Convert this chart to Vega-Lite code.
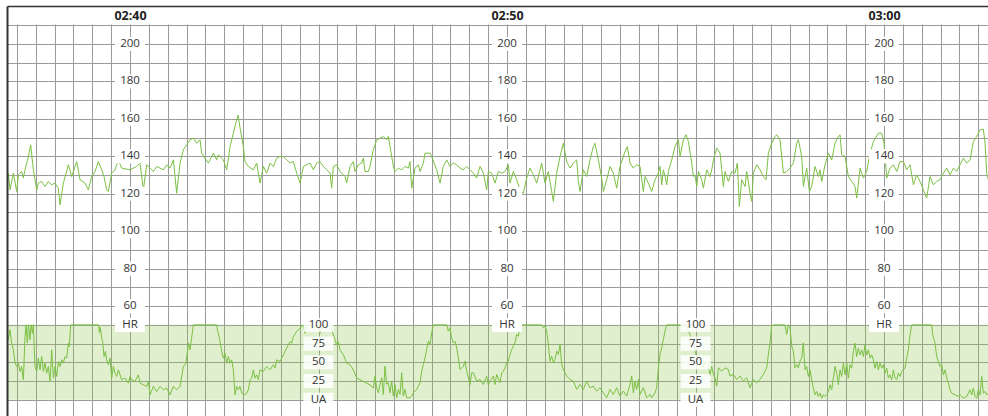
{
"$schema":"https://vega.github.io/schema/vega-lite/v6.json",
"width":981,"height":410,"autosize":"none",
"padding":{"left":7,"top":6,"right":0,"bottom":0},
"background":"white",
"config":{"view":{"stroke":null}},
"datasets":{
"hr":[
{"t":36.72,"v":129.2},{"t":36.773,"v":131.0},{"t":36.817,"v":122.1},{"t":36.906,"v":131.0},{"t":36.994,"v":121.2},{"t":37.038,"v":130.1},{"t":37.127,"v":131.9},{"t":37.171,"v":128.4},{"t":37.215,"v":132.8},{"t":37.304,"v":139.9},{"t":37.365,"v":146.1},{"t":37.436,"v":132.8},{"t":37.525,"v":122.1},{"t":37.569,"v":125.7},{"t":37.657,"v":126.6},{"t":37.746,"v":123.9},{"t":37.834,"v":126.6},{"t":37.922,"v":124.8},{"t":38.011,"v":125.7},{"t":38.099,"v":123.0},{"t":38.144,"v":114.1},{"t":38.232,"v":125.7},{"t":38.365,"v":135.5},{"t":38.453,"v":129.2},{"t":38.586,"v":137.2},{"t":38.674,"v":127.5},{"t":38.807,"v":125.7},{"t":38.895,"v":122.1},{"t":38.983,"v":129.2},{"t":39.072,"v":131.9},{"t":39.16,"v":137.2},{"t":39.249,"v":132.8},{"t":39.311,"v":129.2},{"t":39.381,"v":122.1},{"t":39.426,"v":121.2},{"t":39.514,"v":131.0},{"t":39.602,"v":132.8},{"t":39.691,"v":138.1},{"t":39.779,"v":133.7},{"t":40.0,"v":132.8},{"t":40.177,"v":134.6},{"t":40.266,"v":136.4},{"t":40.354,"v":122.1},{"t":40.442,"v":135.5},{"t":40.531,"v":133.7},{"t":40.619,"v":131.9},{"t":40.708,"v":134.6},{"t":40.796,"v":133.7},{"t":40.884,"v":132.8},{"t":40.973,"v":135.5},{"t":41.061,"v":133.7},{"t":41.15,"v":138.1},{"t":41.238,"v":120.3},{"t":41.327,"v":136.4},{"t":41.415,"v":143.5},{"t":41.503,"v":146.1},{"t":41.592,"v":148.8},{"t":41.68,"v":149.7},{"t":41.769,"v":147.0},{"t":41.857,"v":148.8},{"t":41.901,"v":141.7},{"t":41.99,"v":139.0},{"t":42.078,"v":136.4},{"t":42.122,"v":138.1},{"t":42.211,"v":141.7},{"t":42.299,"v":138.1},{"t":42.343,"v":140.8},{"t":42.432,"v":139.0},{"t":42.476,"v":138.1},{"t":42.564,"v":132.8},{"t":42.653,"v":145.2},{"t":42.741,"v":152.4},{"t":42.81,"v":158.0},{"t":42.865,"v":162.0},{"t":42.92,"v":155.0},{"t":43.007,"v":145.2},{"t":43.051,"v":137.2},{"t":43.139,"v":134.6},{"t":43.272,"v":132.8},{"t":43.36,"v":136.4},{"t":43.449,"v":125.7},{"t":43.537,"v":134.6},{"t":43.625,"v":131.0},{"t":43.714,"v":136.4},{"t":43.802,"v":134.6},{"t":43.891,"v":139.0},{"t":43.979,"v":139.9},{"t":44.067,"v":139.9},{"t":44.156,"v":138.1},{"t":44.244,"v":136.4},{"t":44.333,"v":137.2},{"t":44.421,"v":131.0},{"t":44.51,"v":125.7},{"t":44.598,"v":134.6},{"t":44.686,"v":135.5},{"t":44.775,"v":136.4},{"t":44.863,"v":132.8},{"t":44.951,"v":136.4},{"t":45.04,"v":137.2},{"t":45.128,"v":134.6},{"t":45.217,"v":132.8},
{"t":45.305,"v":131.0},{"t":45.349,"v":123.0},{"t":45.393,"v":134.6},{"t":45.482,"v":135.5},{"t":45.57,"v":131.9},{"t":45.703,"v":129.2},{"t":45.747,"v":125.7},{"t":45.836,"v":134.6},{"t":45.924,"v":137.2},{"t":45.968,"v":131.9},{"t":46.057,"v":135.5},{"t":46.145,"v":136.4},{"t":46.189,"v":139.0},{"t":46.233,"v":131.9},{"t":46.322,"v":131.9},{"t":46.366,"v":134.6},{"t":46.454,"v":143.5},{"t":46.543,"v":148.8},{"t":46.631,"v":149.7},{"t":46.72,"v":150.6},{"t":46.808,"v":148.8},{"t":46.852,"v":150.6},{"t":46.897,"v":145.2},{"t":46.985,"v":134.6},{"t":47.029,"v":131.9},{"t":47.118,"v":133.7},{"t":47.206,"v":132.8},{"t":47.294,"v":134.6},{"t":47.383,"v":133.7},{"t":47.427,"v":137.2},{"t":47.471,"v":123.0},{"t":47.56,"v":133.7},{"t":47.648,"v":135.5},{"t":47.692,"v":131.9},{"t":47.781,"v":136.4},{"t":47.825,"v":141.7},{"t":47.958,"v":141.7},{"t":48.002,"v":139.9},{"t":48.134,"v":132.8},{"t":48.223,"v":125.7},{"t":48.311,"v":134.6},{"t":48.4,"v":138.1},{"t":48.488,"v":134.6},{"t":48.576,"v":136.4},{"t":48.665,"v":135.5},{"t":48.753,"v":133.7},{"t":48.842,"v":132.8},{"t":48.93,"v":134.6},{"t":49.019,"v":132.8},{"t":49.107,"v":131.0},{"t":49.195,"v":128.4},{"t":49.284,"v":134.6},{"t":49.372,"v":131.0},{"t":49.461,"v":122.1},{"t":49.505,"v":131.9},{"t":49.593,"v":131.0},{"t":49.682,"v":125.7},{"t":49.77,"v":131.9},{"t":49.858,"v":131.0},{"t":49.947,"v":131.9},{"t":50.035,"v":135.5},{"t":50.08,"v":125.7},{"t":50.168,"v":131.9},{"t":50.256,"v":127.5},{"t":50.345,"v":122.1},{"t":50.433,"v":120.3},{"t":50.522,"v":128.4},{"t":50.61,"v":133.7},{"t":50.698,"v":130.1},{"t":50.787,"v":125.7},{"t":50.92,"v":136.4},{"t":51.008,"v":125.7},{"t":51.096,"v":131.9},{"t":51.185,"v":121.2},{"t":51.229,"v":115.9},{"t":51.317,"v":131.0},{"t":51.406,"v":139.9},{"t":51.494,"v":147.0},{"t":51.583,"v":137.2},{"t":51.671,"v":133.7},{"t":51.759,"v":136.4},{"t":51.848,"v":138.1},{"t":51.892,"v":126.6},{"t":51.936,"v":121.2},{"t":52.025,"v":132.8},{"t":52.113,"v":129.2},{"t":52.201,"v":138.1},{"t":52.29,"v":145.2},{"t":52.334,"v":147.0},{"t":52.423,"v":138.1},{"t":52.511,"v":128.4},{"t":52.555,"v":121.2},{"t":52.644,"v":127.5},{"t":52.732,"v":134.6},{"t":52.82,"v":131.0},{"t":52.909,"v":123.0},{"t":52.997,"v":134.6},{"t":53.13,"v":142.6},{"t":53.192,"v":145.2},{"t":53.263,"v":136.4},{"t":53.351,"v":133.7},{"t":53.439,"v":135.5},{"t":53.528,"v":134.6},{"t":53.616,"v":121.2},{"t":53.661,"v":129.2},{"t":53.749,"v":125.7},{"t":53.837,"v":121.2},{"t":53.926,"v":127.5},{"t":54.014,"v":131.0},
{"t":54.059,"v":134.6},{"t":54.103,"v":124.8},{"t":54.147,"v":132.8},{"t":54.192,"v":129.2},{"t":54.236,"v":124.8},{"t":54.28,"v":131.9},{"t":54.368,"v":138.1},{"t":54.457,"v":145.2},{"t":54.545,"v":148.8},{"t":54.59,"v":139.9},{"t":54.678,"v":148.8},{"t":54.749,"v":151.5},{"t":54.811,"v":147.9},{"t":54.899,"v":136.4},{"t":54.943,"v":129.2},{"t":54.987,"v":130.1},{"t":55.032,"v":123.9},{"t":55.076,"v":131.9},{"t":55.164,"v":127.5},{"t":55.208,"v":123.0},{"t":55.297,"v":132.8},{"t":55.385,"v":129.2},{"t":55.43,"v":132.8},{"t":55.474,"v":138.1},{"t":55.562,"v":144.4},{"t":55.651,"v":141.7},{"t":55.695,"v":132.8},{"t":55.739,"v":123.9},{"t":55.783,"v":131.9},{"t":55.872,"v":126.6},{"t":55.96,"v":131.9},{"t":56.048,"v":131.0},{"t":56.11,"v":136.4},{"t":56.163,"v":113.2},{"t":56.225,"v":127.5},{"t":56.314,"v":123.9},{"t":56.358,"v":131.9},{"t":56.446,"v":120.4},{"t":56.491,"v":115.9},{"t":56.535,"v":131.0},{"t":56.623,"v":135.5},{"t":56.712,"v":132.8},{"t":56.8,"v":129.2},{"t":56.871,"v":127.5},{"t":56.933,"v":141.7},{"t":57.021,"v":147.0},{"t":57.109,"v":150.6},{"t":57.154,"v":151.5},{"t":57.242,"v":148.8},{"t":57.33,"v":131.0},{"t":57.419,"v":131.9},{"t":57.507,"v":133.7},{"t":57.596,"v":136.4},{"t":57.684,"v":147.0},{"t":57.728,"v":148.8},{"t":57.817,"v":139.9},{"t":57.861,"v":123.9},{"t":57.949,"v":133.7},{"t":58.02,"v":121.2},{"t":58.082,"v":123.9},{"t":58.17,"v":134.6},{"t":58.259,"v":129.2},{"t":58.303,"v":132.8},{"t":58.347,"v":126.6},{"t":58.436,"v":135.5},{"t":58.524,"v":141.7},{"t":58.612,"v":138.1},{"t":58.701,"v":147.0},{"t":58.789,"v":150.6},{"t":58.833,"v":151.5},{"t":58.878,"v":140.8},{"t":58.966,"v":139.9},{"t":59.055,"v":129.2},{"t":59.143,"v":126.6},{"t":59.231,"v":123.9},{"t":59.276,"v":117.7},{"t":59.364,"v":133.7},{"t":59.452,"v":128.4},{"t":59.541,"v":131.9},{"t":59.629,"v":141.7},{"t":59.718,"v":147.9},{"t":59.85,"v":152.4},{"t":59.939,"v":152.4},{"t":60.001,"v":147.0},{"t":60.071,"v":128.4},{"t":60.16,"v":133.7},{"t":60.248,"v":135.5},{"t":60.337,"v":131.9},{"t":60.425,"v":137.2},{"t":60.513,"v":137.2},{"t":60.602,"v":132.8},{"t":60.69,"v":135.5},{"t":60.779,"v":124.8},{"t":60.867,"v":130.1},{"t":60.955,"v":126.6},{"t":61.044,"v":122.1},{"t":61.132,"v":117.7},{"t":61.221,"v":129.2},{"t":61.309,"v":124.8},{"t":61.398,"v":126.6},{"t":61.486,"v":127.5},{"t":61.574,"v":131.0},{"t":61.663,"v":133.7},{"t":61.751,"v":130.1},{"t":61.84,"v":133.7},{"t":61.928,"v":131.9},{"t":62.016,"v":135.5},{"t":62.105,"v":139.0},{"t":62.193,"v":136.4},{"t":62.282,"v":138.1},{"t":62.37,"v":147.9},{"t":62.459,"v":150.6},{"t":62.547,"v":154.1},{"t":62.635,"v":154.5},{"t":62.68,"v":147.0},{"t":62.724,"v":131.0},{"t":62.768,"v":127.5}
],
"ua":[
{"t":36.711,"v":93.3},{"t":36.773,"v":80.0},{"t":36.817,"v":93.3},{"t":36.861,"v":75.6},{"t":36.906,"v":66.7},{"t":36.95,"v":48.9},{"t":36.994,"v":44.4},{"t":37.038,"v":48.9},{"t":37.083,"v":37.8},{"t":37.127,"v":44.4},{"t":37.171,"v":26.7},{"t":37.215,"v":84.4},{"t":37.242,"v":100},{"t":37.277,"v":75.6},{"t":37.304,"v":100},{"t":37.348,"v":80.0},{"t":37.374,"v":100},{"t":37.41,"v":88.9},{"t":37.436,"v":100},{"t":37.48,"v":44.4},{"t":37.525,"v":37.8},{"t":37.569,"v":55.6},{"t":37.613,"v":40.0},{"t":37.657,"v":57.8},{"t":37.701,"v":37.8},{"t":37.746,"v":48.9},{"t":37.79,"v":35.6},{"t":37.834,"v":44.4},{"t":37.878,"v":24.4},{"t":37.922,"v":66.7},{"t":37.967,"v":28.9},{"t":38.011,"v":44.4},{"t":38.055,"v":31.1},{"t":38.099,"v":51.1},{"t":38.144,"v":44.4},{"t":38.188,"v":53.3},{"t":38.232,"v":48.9},{"t":38.276,"v":57.8},{"t":38.32,"v":55.6},{"t":38.365,"v":75.6},{"t":38.391,"v":71.1},{"t":38.426,"v":100},{"t":39.169,"v":100},{"t":39.187,"v":89.8},{"t":39.205,"v":97},
{"t":39.222,"v":93.3},{"t":39.249,"v":82.2},{"t":39.275,"v":77.8},{"t":39.311,"v":57.8},{"t":39.346,"v":64.4},{"t":39.381,"v":53.3},{"t":39.426,"v":46.7},{"t":39.47,"v":55.6},{"t":39.514,"v":28.9},{"t":39.558,"v":44.4},{"t":39.602,"v":35.6},{"t":39.647,"v":31.1},{"t":39.691,"v":40.0},{"t":39.779,"v":26.7},{"t":39.868,"v":28.9},{"t":39.956,"v":22.2},{"t":40.0,"v":31.1},{"t":40.045,"v":26.7},{"t":40.133,"v":24.4},{"t":40.221,"v":33.3},{"t":40.266,"v":22.2},{"t":40.354,"v":20.0},{"t":40.442,"v":17.8},{"t":40.487,"v":24.4},{"t":40.531,"v":6.7},{"t":40.619,"v":17.8},{"t":40.708,"v":11.1},{"t":40.796,"v":17.8},{"t":40.884,"v":13.3},{"t":40.973,"v":15.6},{"t":41.061,"v":6.7},{"t":41.15,"v":17.8},{"t":41.238,"v":13.3},{"t":41.327,"v":17.8},{"t":41.371,"v":31.1},{"t":41.415,"v":44.4},{"t":41.486,"v":48.9},{"t":41.548,"v":75.6},{"t":41.592,"v":66.7},{"t":41.68,"v":100},{"t":42.299,"v":100},{"t":42.317,"v":93.3},{"t":42.37,"v":82.2},{"t":42.432,"v":64.4},{"t":42.476,"v":55.6},{"t":42.52,"v":62.2},{"t":42.564,"v":48.9},{"t":42.609,"v":57.8},{"t":42.653,"v":48.9},{"t":42.697,"v":53.3},{"t":42.741,"v":40.0},{"t":42.785,"v":6.7},{"t":42.83,"v":17.8},{"t":42.874,"v":13.3},{"t":42.918,"v":17.8},{"t":42.962,"v":8.9},{"t":43.051,"v":6.7},{"t":43.095,"v":8.9},{"t":43.139,"v":13.3},{"t":43.183,"v":26.7},{"t":43.227,"v":28.9},{"t":43.272,"v":40.0},{"t":43.316,"v":28.9},{"t":43.36,"v":33.3},{"t":43.404,"v":26.7},{"t":43.449,"v":40.0},{"t":43.537,"v":37.8},{"t":43.625,"v":44.4},{"t":43.714,"v":40.0},{"t":43.802,"v":46.7},{"t":43.846,"v":42.2},{"t":43.891,"v":53.3},{"t":43.979,"v":51.1},{"t":44.067,"v":60.0},{"t":44.156,"v":68.9},{"t":44.244,"v":77.8},{"t":44.289,"v":75.6},{"t":44.333,"v":84.4},{"t":44.421,"v":91.1},{"t":44.51,"v":95.6},{"t":44.598,"v":100},{"t":44.642,"v":88.9},{"t":44.686,"v":97.8},{"t":44.775,"v":100},{"t":44.863,"v":93.3},{"t":44.951,"v":100},{"t":45.04,"v":88.9},{"t":45.128,"v":100},{"t":45.217,"v":95.6},{"t":45.305,"v":100},{"t":45.349,"v":93.3},{"t":45.438,"v":80.0},{"t":45.482,"v":73.3},{"t":45.526,"v":77.8},{"t":45.57,"v":66.7},{"t":45.659,"v":60.0},{"t":45.747,"v":48.9},{"t":45.836,"v":46.7},{"t":45.924,"v":40.0},{"t":46.013,"v":28.9},{"t":46.101,"v":26.7},{"t":46.189,"v":24.4},{"t":46.278,"v":22.2},{"t":46.366,"v":20.0},{"t":46.455,"v":15.6},
{"t":46.499,"v":31.6},{"t":46.543,"v":16.0},{"t":46.587,"v":9.3},{"t":46.631,"v":20.4},{"t":46.675,"v":29.3},{"t":46.72,"v":7.1},{"t":46.764,"v":44.9},{"t":46.808,"v":20.4},{"t":46.852,"v":22.7},{"t":46.897,"v":9.3},{"t":46.941,"v":24.9},{"t":46.985,"v":4.9},{"t":47.029,"v":20.4},{"t":47.073,"v":2.7},{"t":47.118,"v":13.8},{"t":47.162,"v":7.1},{"t":47.206,"v":36.0},{"t":47.25,"v":4.9},{"t":47.294,"v":13.8},{"t":47.339,"v":2.7},{"t":47.427,"v":2.7},{"t":47.471,"v":4.9},{"t":47.515,"v":9.3},{"t":47.604,"v":13.8},{"t":47.692,"v":22.7},{"t":47.737,"v":38.2},{"t":47.781,"v":47.1},{"t":47.825,"v":56.0},{"t":47.869,"v":67.1},{"t":47.913,"v":78.2},{"t":47.958,"v":73.8},{"t":48.002,"v":89.3},{"t":48.046,"v":100},{"t":48.4,"v":100},{"t":48.444,"v":91.6},{"t":48.488,"v":96.0},{"t":48.532,"v":82.7},{"t":48.576,"v":76.0},{"t":48.621,"v":78.2},{"t":48.665,"v":69.3},{"t":48.709,"v":56.0},{"t":48.753,"v":40.4},{"t":48.842,"v":44.9},{"t":48.886,"v":51.6},{"t":48.93,"v":38.2},{"t":49.019,"v":20.4},{"t":49.063,"v":36.0},{"t":49.107,"v":36.0},{"t":49.195,"v":24.9},{"t":49.284,"v":27.1},{"t":49.372,"v":20.4},{"t":49.461,"v":31.6},{"t":49.505,"v":20.4},{"t":49.549,"v":24.9},{"t":49.638,"v":31.6},{"t":49.682,"v":20.4},{"t":49.726,"v":33.8},{"t":49.814,"v":22.7},{"t":49.859,"v":36.0},{"t":49.903,"v":38.2},{"t":49.947,"v":42.7},{"t":49.991,"v":49.3},{"t":50.035,"v":51.6},{"t":50.08,"v":60.4},{"t":50.124,"v":67.1},{"t":50.168,"v":71.6},{"t":50.212,"v":76.0},{"t":50.256,"v":87.1},{"t":50.301,"v":84.9},{"t":50.345,"v":98.2},{"t":50.389,"v":100},{"t":50.919,"v":100},{"t":50.964,"v":96.0},{"t":51.008,"v":98.2},{"t":51.052,"v":91.6},{"t":51.096,"v":73.8},{"t":51.141,"v":51.6},{"t":51.185,"v":58.2},{"t":51.229,"v":49.3},{"t":51.273,"v":53.8},{"t":51.317,"v":64.9},{"t":51.362,"v":60.4},{"t":51.406,"v":73.8},{"t":51.45,"v":47.1},{"t":51.494,"v":40.4},{"t":51.539,"v":36.0},{"t":51.583,"v":31.6},{"t":51.671,"v":27.1},{"t":51.759,"v":24.9},{"t":51.848,"v":13.8},{"t":51.936,"v":20.4},{"t":52.025,"v":13.8},{"t":52.113,"v":24.9},{"t":52.201,"v":16.0},{"t":52.29,"v":18.2},{"t":52.378,"v":11.6},{"t":52.467,"v":16.0},{"t":52.555,"v":9.3},{"t":52.644,"v":2.7},{"t":52.732,"v":13.8},{"t":52.82,"v":7.1},{"t":52.909,"v":16.0},{"t":52.997,"v":4.9},{"t":53.086,"v":11.6},{"t":53.174,"v":4.9},{"t":53.263,"v":20.4},{"t":53.307,"v":31.6},{"t":53.351,"v":9.3},{"t":53.395,"v":24.9},{"t":53.439,"v":13.8},{"t":53.484,"v":27.1},{"t":53.528,"v":7.1},{"t":53.616,"v":16.0},{"t":53.705,"v":2.7},{"t":53.793,"v":7.1},{"t":53.837,"v":2.7},{"t":53.926,"v":9.3},{"t":53.97,"v":16.0},{"t":54.014,"v":42.7},{"t":54.059,"v":60.4},{"t":54.103,"v":69.3},{"t":54.147,"v":80.4},{"t":54.191,"v":91.6},{"t":54.235,"v":100},{"t":54.766,"v":100},{"t":54.81,"v":91.6},{"t":54.854,"v":87.1},{"t":54.898,"v":69.3},{"t":54.943,"v":78.2},{"t":54.987,"v":64.9},{"t":55.031,"v":58.2},{"t":55.075,"v":53.8},{"t":55.119,"v":47.1},{"t":55.164,"v":51.6},{"t":55.208,"v":42.7},{"t":55.252,"v":51.6},{"t":55.34,"v":47.1},{"t":55.385,"v":31.6},{"t":55.429,"v":44.9},{"t":55.473,"v":33.8},{"t":55.517,"v":29.3},{"t":55.562,"v":18.2},{"t":55.606,"v":42.7},{"t":55.694,"v":38.2},{"t":55.783,"v":42.7},{"t":55.871,"v":40.4},{"t":55.915,"v":31.6},{"t":56.004,"v":33.8},{"t":56.092,"v":27.1},{"t":56.181,"v":31.6},{"t":56.269,"v":24.9},{"t":56.357,"v":29.3},{"t":56.446,"v":16.0},{"t":56.534,"v":27.1},{"t":56.622,"v":22.7},{"t":56.711,"v":27.1},{"t":56.799,"v":33.8},{"t":56.888,"v":42.7},{"t":56.932,"v":60.4},{"t":56.976,"v":76.0},{"t":57.02,"v":98.2},{"t":57.065,"v":100},{"t":57.374,"v":100},{"t":57.418,"v":87.1},{"t":57.462,"v":100},{"t":57.507,"v":96.0},{"t":57.551,"v":71.6},{"t":57.595,"v":64.9},{"t":57.639,"v":42.7},{"t":57.684,"v":47.1},{"t":57.728,"v":42.7},{"t":57.772,"v":51.6},{"t":57.816,"v":56.0},{"t":57.86,"v":76.0},
{"t":57.905,"v":40.0},{"t":57.949,"v":44.4},{"t":57.993,"v":31.1},{"t":58.037,"v":40.0},{"t":58.081,"v":26.7},{"t":58.126,"v":15.6},{"t":58.17,"v":6.7},{"t":58.214,"v":11.1},{"t":58.258,"v":4.4},{"t":58.303,"v":8.9},{"t":58.347,"v":2.2},{"t":58.391,"v":6.7},{"t":58.435,"v":4.4},{"t":58.479,"v":6.7},{"t":58.524,"v":11.1},{"t":58.568,"v":20.0},{"t":58.612,"v":13.3},{"t":58.656,"v":28.9},{"t":58.7,"v":44.4},{"t":58.745,"v":35.6},{"t":58.789,"v":20.0},{"t":58.833,"v":40.0},{"t":58.877,"v":31.1},{"t":58.921,"v":48.9},{"t":58.966,"v":33.3},{"t":59.01,"v":48.9},{"t":59.054,"v":28.9},{"t":59.098,"v":46.7},{"t":59.142,"v":42.2},{"t":59.187,"v":64.4},{"t":59.231,"v":75.6},{"t":59.275,"v":57.8},{"t":59.319,"v":68.9},{"t":59.364,"v":60.0},{"t":59.408,"v":66.7},{"t":59.452,"v":57.8},{"t":59.496,"v":73.3},{"t":59.54,"v":60.0},{"t":59.585,"v":66.7},{"t":59.629,"v":55.6},{"t":59.673,"v":60.0},{"t":59.717,"v":53.3},{"t":59.761,"v":42.2},{"t":59.806,"v":51.1},{"t":59.85,"v":40.0},{"t":59.894,"v":48.9},{"t":59.938,"v":42.2},{"t":59.983,"v":46.7},{"t":60.027,"v":35.6},{"t":60.071,"v":42.2},{"t":60.115,"v":28.9},{"t":60.159,"v":33.3},{"t":60.204,"v":26.7},{"t":60.248,"v":40.0},{"t":60.292,"v":28.9},{"t":60.336,"v":26.7},{"t":60.38,"v":35.6},{"t":60.425,"v":31.1},{"t":60.469,"v":37.8},{"t":60.513,"v":40.0},{"t":60.557,"v":42.2},{"t":60.601,"v":55.6},{"t":60.646,"v":66.7},{"t":60.69,"v":86.7},{"t":60.734,"v":100},{"t":61.264,"v":100},{"t":61.291,"v":86.7},{"t":61.353,"v":75.6},{"t":61.397,"v":57.8},{"t":61.441,"v":51.1},{"t":61.486,"v":44.4},{"t":61.53,"v":46.7},{"t":61.574,"v":33.3},{"t":61.618,"v":40.0},{"t":61.663,"v":28.9},{"t":61.707,"v":22.2},{"t":61.751,"v":13.3},{"t":61.795,"v":8.9},{"t":61.884,"v":6.7},{"t":61.972,"v":4.4},{"t":62.016,"v":6.7},{"t":62.105,"v":2.2},{"t":62.193,"v":4.4},{"t":62.281,"v":13.3},{"t":62.326,"v":6.7},{"t":62.37,"v":15.6},{"t":62.414,"v":4.4},{"t":62.458,"v":2.2},{"t":62.503,"v":13.3},{"t":62.547,"v":6.7},{"t":62.591,"v":31.1},{"t":62.635,"v":8.9},{"t":62.68,"v":11.1},{"t":62.724,"v":6.7},{"t":62.768,"v":8.9}
],
"hrLabels":[
{"t":40,"v":200,"label":"200"},{"t":40,"v":180,"label":"180"},{"t":40,"v":160,"label":"160"},{"t":40,"v":140,"label":"140"},{"t":40,"v":120,"label":"120"},{"t":40,"v":100,"label":"100"},{"t":40,"v":80,"label":"80"},{"t":40,"v":60,"label":"60"},{"t":40,"v":50,"label":"HR"},
{"t":50,"v":200,"label":"200"},{"t":50,"v":180,"label":"180"},{"t":50,"v":160,"label":"160"},{"t":50,"v":140,"label":"140"},{"t":50,"v":120,"label":"120"},{"t":50,"v":100,"label":"100"},{"t":50,"v":80,"label":"80"},{"t":50,"v":60,"label":"60"},{"t":50,"v":50,"label":"HR"},
{"t":60,"v":200,"label":"200"},{"t":60,"v":180,"label":"180"},{"t":60,"v":160,"label":"160"},{"t":60,"v":140,"label":"140"},{"t":60,"v":120,"label":"120"},{"t":60,"v":100,"label":"100"},{"t":60,"v":80,"label":"80"},{"t":60,"v":60,"label":"60"},{"t":60,"v":50,"label":"HR"}
],
"uaLabels":[
{"t":45,"v":100,"label":"100"},{"t":45,"v":75,"label":"75"},{"t":45,"v":50,"label":"50"},{"t":45,"v":25,"label":"25"},{"t":45,"v":0,"label":"UA"},
{"t":55,"v":100,"label":"100"},{"t":55,"v":75,"label":"75"},{"t":55,"v":50,"label":"50"},{"t":55,"v":25,"label":"25"},{"t":55,"v":0,"label":"UA"}
]
},
"layer":[
{"data":{"values":[{"t0":36.6,"t1":62.9,"y0":210.45,"y1":225}]},
 "mark":{"type":"rect","fill":"white","clip":true},
 "encoding":{
  "x":{"field":"t0","type":"quantitative","scale":{"domain":[36.737,62.758],"nice":false,"zero":false},
   "axis":{"orient":"top","values":[40,50,60],"labelExpr":"'0' + (2 + floor(datum.value / 60)) + ':' + (datum.value % 60 < 10 ? '0' : '') + (datum.value % 60)","grid":false,"ticks":false,"domain":true,"domainColor":"#333333","domainWidth":1.5,"labelFont":"Open Sans","labelFontWeight":"bold","labelFontSize":12.5,"labelColor":"#222222","labelPadding":-9.8,"labelBaseline":"middle","labelFlush":false,"labelOverlap":false,"title":null,"zindex":1}},
  "x2":{"field":"t1"},
  "y":{"field":"y0","type":"quantitative","scale":{"domain":[1.333,220.267],"nice":false,"zero":false},
   "axis":{"orient":"left","values":[10,20,30,40,50,60,70,80,90,100,110,120,130,140,150,160,170,180,190,200,210],"grid":true,"gridColor":"#9a9a9a","gridWidth":1,"labels":false,"ticks":false,"domain":false,"title":null,"zindex":0}},
  "y2":{"field":"y1"}
 }},
{"data":{"values":[{"t0":36.6,"t1":62.9,"lo":0,"hi":100}]},
 "mark":{"type":"rect","fill":"#8bc34a","opacity":0.27,"clip":true},
 "encoding":{
  "x":{"field":"t0","type":"quantitative","scale":{"domain":[36.737,62.758],"nice":false,"zero":false},
   "axis":{"orient":"bottom","values":[37,37.5,38,38.5,39,39.5,40,40.5,41,41.5,42,42.5,43,43.5,44,44.5,45,45.5,46,46.5,47,47.5,48,48.5,49,49.5,50,50.5,51,51.5,52,52.5,53,53.5,54,54.5,55,55.5,56,56.5,57,57.5,58,58.5,59,59.5,60,60.5,61,61.5,62,62.5],"grid":true,"gridColor":"#9a9a9a","gridWidth":1,"labels":false,"ticks":false,"domain":false,"title":null,"zindex":0}},
  "x2":{"field":"t1"},
  "y":{"field":"lo","type":"quantitative","scale":{"domain":[-21.667,525.667],"nice":false,"zero":false},
   "axis":{"orient":"left","grid":false,"labels":false,"ticks":false,"domain":true,"domainColor":"#333333","domainWidth":2,"title":null,"zindex":1}},
  "y2":{"field":"hi"}
 }},
{"data":{"name":"hr"},
 "mark":{"type":"line","color":"#7bc043","strokeWidth":1,"clip":true},
 "encoding":{
  "x":{"field":"t","type":"quantitative","scale":{"domain":[36.737,62.758],"nice":false,"zero":false},"axis":null},
  "y":{"field":"v","type":"quantitative","scale":{"domain":[1.333,220.267],"nice":false,"zero":false},"axis":null}
 }},
{"data":{"name":"ua"},
 "mark":{"type":"line","color":"#7bc043","strokeWidth":1,"clip":true},
 "encoding":{
  "x":{"field":"t","type":"quantitative","scale":{"domain":[36.737,62.758],"nice":false,"zero":false},"axis":null},
  "y":{"field":"v","type":"quantitative","scale":{"domain":[-21.667,525.667],"nice":false,"zero":false},"axis":null}
 }},
{"data":{"name":"hrLabels"},
 "mark":{"type":"point","shape":"M-1,-0.47L1,-0.47L1,0.47L-1,0.47Z","filled":true,"color":"white","opacity":1,"size":900,"strokeWidth":0},
 "encoding":{
  "x":{"field":"t","type":"quantitative","scale":{"domain":[36.737,62.758],"nice":false,"zero":false},"axis":null},
  "y":{"field":"v","type":"quantitative","scale":{"domain":[1.333,220.267],"nice":false,"zero":false},"axis":null}
 }},
{"data":{"name":"hrLabels"},
 "mark":{"type":"text","font":"Open Sans","fontSize":11.5,"color":"#333333","align":"center","baseline":"middle"},
 "encoding":{
  "x":{"field":"t","type":"quantitative","scale":{"domain":[36.737,62.758],"nice":false,"zero":false},"axis":null},
  "y":{"field":"v","type":"quantitative","scale":{"domain":[1.333,220.267],"nice":false,"zero":false},"axis":null},
  "text":{"field":"label"}
 }},
{"data":{"name":"uaLabels"},
 "mark":{"type":"point","shape":"M-1,-0.47L1,-0.47L1,0.47L-1,0.47Z","filled":true,"color":"white","opacity":0.85,"size":900,"strokeWidth":0},
 "encoding":{
  "x":{"field":"t","type":"quantitative","scale":{"domain":[36.737,62.758],"nice":false,"zero":false},"axis":null},
  "y":{"field":"v","type":"quantitative","scale":{"domain":[-21.667,525.667],"nice":false,"zero":false},"axis":null}
 }},
{"data":{"name":"uaLabels"},
 "mark":{"type":"text","font":"Open Sans","fontSize":11.5,"color":"#333333","align":"center","baseline":"middle"},
 "encoding":{
  "x":{"field":"t","type":"quantitative","scale":{"domain":[36.737,62.758],"nice":false,"zero":false},"axis":null},
  "y":{"field":"v","type":"quantitative","scale":{"domain":[-21.667,525.667],"nice":false,"zero":false},"axis":null},
  "text":{"field":"label"}
 }}
],
"resolve":{"scale":{"y":"independent"},"axis":{"x":"independent","y":"independent"}}
}
